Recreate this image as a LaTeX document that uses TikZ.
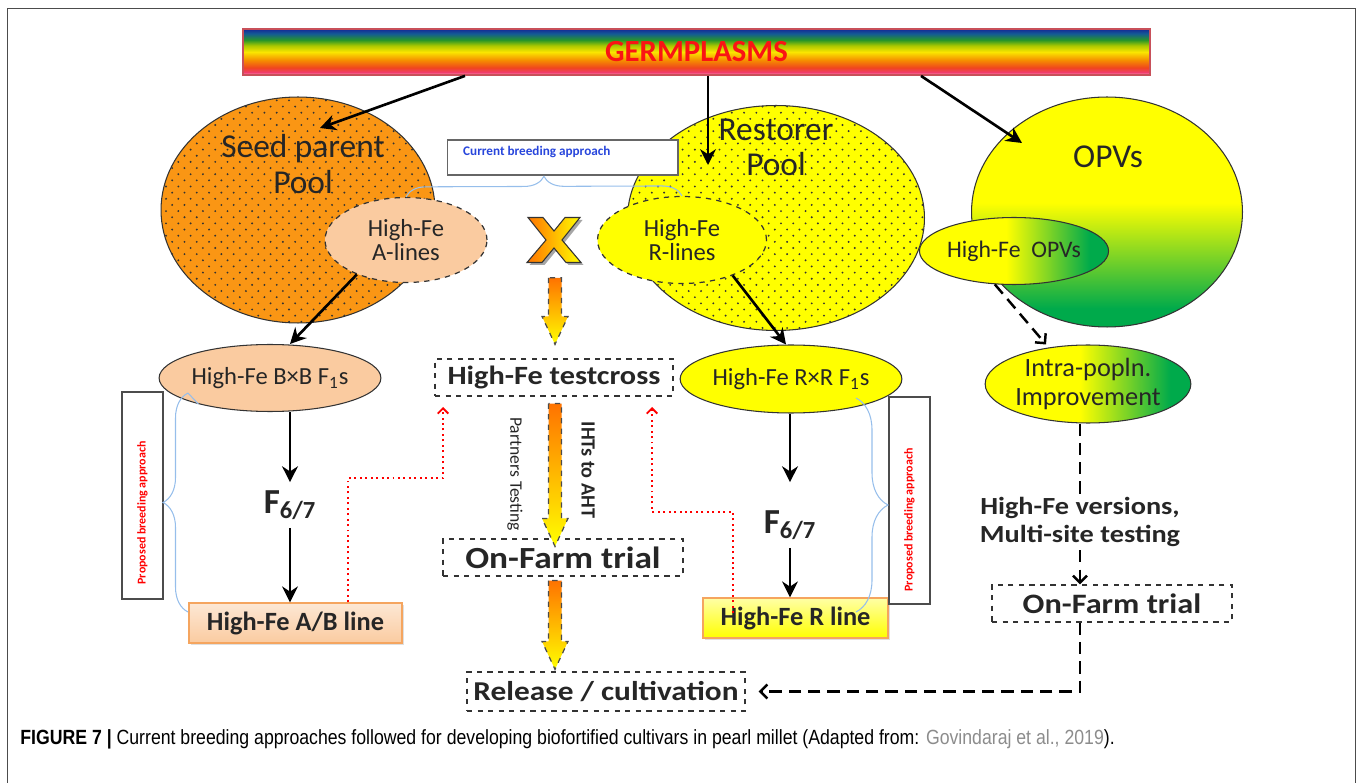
\documentclass[tikz,border=0pt]{standalone}
\usepackage{fontspec}
\setmainfont{Carlito}
\newfontfamily\widefont[FakeStretch=1.15]{Carlito}
\newfontfamily\capfont[FakeStretch=0.86]{Liberation Sans}
\usepackage{tikz}
\usetikzlibrary{
	arrows.meta,
	calc,
	patterns,
	decorations.pathreplacing,
	shapes.geometric,
	shadows,
	positioning
}
\definecolor{SeedOrange}{RGB}{250,150,20}
\definecolor{PoolYellow}{RGB}{255,255,0}
\definecolor{Peach}{RGB}{250,203,160}
\definecolor{LeafGreen}{RGB}{0,170,75}
\definecolor{BraceBlue}{RGB}{150,190,235}
\definecolor{TitleRed}{RGB}{250,20,20}
\definecolor{LinkBlue}{RGB}{40,70,220}
\definecolor{BoxOrange}{RGB}{245,165,95}
\definecolor{BarEdge}{RGB}{200,80,90}
\definecolor{BarPink}{RGB}{255,160,190}
\definecolor{BarRose}{RGB}{240,60,110}
\definecolor{BarRed}{RGB}{240,70,30}
\definecolor{BarOrange}{RGB}{245,140,0}
\definecolor{BarYellow}{RGB}{250,230,0}
\definecolor{BarLime}{RGB}{170,200,0}
\definecolor{BarGreen}{RGB}{40,150,40}
\definecolor{BarBlue}{RGB}{20,90,150}
\definecolor{BarNavy}{RGB}{20,40,150}

\newcommand\fsz[2]{\fontsize{#1}{#2}\selectfont}

\pgfdeclarepatternformonly{sparsedots}{\pgfqpoint{-1pt}{-1pt}}{\pgfqpoint{5pt}{5pt}}{\pgfqpoint{7pt}{7pt}}{%
	\pgfpathcircle{\pgfqpoint{0pt}{0pt}}{0.6pt}%
	\pgfpathcircle{\pgfqpoint{3.5pt}{3.5pt}}{0.6pt}%
	\pgfusepath{fill}}

\pgfdeclareverticalshading{rainbowbar}{100bp}{color(0bp)=(BarPink); color(25bp)=(BarPink);
	color(28bp)=(BarRose); color(33bp)=(BarRed); color(41bp)=(BarOrange); color(50bp)=(BarYellow);
	color(57bp)=(BarLime); color(63bp)=(BarGreen); color(70bp)=(BarBlue); color(75bp)=(BarNavy);
	color(100bp)=(BarNavy)}
\pgfdeclareverticalshading{opvfade}{100bp}{color(0bp)=(LeafGreen); color(29bp)=(LeafGreen);
	color(52bp)=(PoolYellow); color(100bp)=(PoolYellow)}
\pgfdeclarehorizontalshading{opvside}{100bp}{color(0bp)=(PoolYellow); color(48bp)=(PoolYellow);
	color(70bp)=(LeafGreen); color(100bp)=(LeafGreen)}

% big dashed gradient arrow between two coordinates
\newcommand\fatdown[2]{%
	\draw[bigarrow] ($(#1)+(-6.5,0)$) -- ($(#2)+(-6.5,-28)$) -- ($(#2)+(-13,-28)$) -- (#2)
		-- ($(#2)+(13,-28)$) -- ($(#2)+(6.5,-28)$) -- ($(#1)+(6.5,0)$) -- cycle;}

\begin{document}
\begin{tikzpicture}[x=0.02cm,y=-0.02cm,
	every node/.style={font=\fsz{14}{15}, text=black!85},
	pool/.style={ellipse, draw=black!80, line width=0.6pt, inner sep=0pt},
	lineell/.style={ellipse, draw=black!80, dashed, line width=0.7pt, inner sep=0pt, align=center},
	solidell/.style={ellipse, draw=black!80, line width=0.6pt, inner sep=0pt, align=center},
	dashbox/.style={draw=black!80, dashed, line width=0.7pt, inner sep=0pt, font=\widefont\bfseries\fsz{16}{17}},
	linebox/.style={draw=BoxOrange, line width=0.8pt, inner sep=0pt, font=\bfseries\fsz{15}{16},
		drop shadow={opacity=0.25, shadow xshift=1pt, shadow yshift=-1pt}},
	propbox/.style={draw=black!70, line width=0.6pt, minimum width=0.82cm, minimum height=4.14cm,
		inner sep=0pt, font=\bfseries\fsz{6.8}{7}, text=red},
	arr/.style={-{Stealth[length=9pt,width=9pt]}, line width=1.5pt},
	darr/.style={-{Straight Barb[length=4pt,width=8pt]}, dash pattern=on 7pt off 4pt, line width=1.4pt},
	redarr/.style={-{Straight Barb[length=3pt,width=6pt]}, red, dotted, line width=1.1pt},
	bracelink/.style={BraceBlue, line width=0.6pt, decorate},
	bigarrow/.style={top color=orange!90!red, bottom color=yellow, draw=black!70, dashed, line width=0.7pt},
	xmark/.style={left color=orange!90!red, right color=yellow, draw=black!80, line width=0.6pt}
	]
	\useasboundingbox (0,0) rectangle (1358,783);
	\draw[black!70, line width=0.8pt] (7.5,783) -- (7.5,8.5) -- (1355.5,8.5) -- (1355.5,783);

	% germplasm bar
	\node[shade, shading=rainbowbar, draw=BarEdge, line width=1pt, minimum width=18.14cm,
		minimum height=0.92cm, inner sep=0pt, font=\bfseries\fsz{17.5}{17.5}, text=TitleRed]
		(germ) at (696.5,52) {GERMPLASMS};

	% three pools
	\node[pool, minimum width=5.48cm, minimum height=4.52cm, preaction={fill=SeedOrange},
		pattern=sparsedots, pattern color=black!80] (seed) at (298,210) {};
	\node[font=\fsz{19}{20}, align=center] (seedtxt) at (303,164) {Seed parent\\Pool};
	\node[pool, minimum width=5.94cm, minimum height=4.50cm, preaction={fill=PoolYellow},
		pattern=sparsedots, pattern color=black!80] (rest) at (776,218) {};
	\node[font=\fsz{19}{20}, align=center] (resttxt) at (776,147) {Restorer\\Pool};
	\node[pool, minimum width=5.42cm, minimum height=4.60cm, shade, shading=opvfade] (opv) at (1107,212) {};
	\node[font=\fsz{19}{20}] (opvtxt) at (1108,157) {OPVs};

	\draw[arr] (germ.south -| 465,0) -- ($(seed.center)+(22,-82)$);
	\draw[arr] (germ.south -| 708,0) -- ($(rest.center)+(-68,-53)$);
	\draw[arr] (germ.south -| 921,0) -- ($(opv.center)+(-85,-69)$);

	% current approach
	\node[draw=black!60, fill=white, line width=0.6pt, minimum width=4.62cm, minimum height=0.7cm,
		inner sep=0pt] (current) at (562.5,157.5) {};
	\node[font=\bfseries\fsz{7.5}{8}, text=LinkBlue, anchor=west] (currtxt) at (457,152) {Current breeding approach};

	\node[lineell, fill=Peach, minimum width=3.24cm, minimum height=1.70cm, font=\fsz{14}{14}]
		(alines) at (406,240) {High-Fe\\A-lines};
	\node[lineell, fill=PoolYellow, minimum width=3.38cm, minimum height=1.74cm, font=\fsz{14}{14}]
		(rlines) at (682,240) {High-Fe\\R-lines};
	\draw[bracelink, decoration={brace, amplitude=0.4cm, aspect=0.5}] (alines.north) -- (rlines.north);

	% the cross
	\node[minimum width=1.04cm, minimum height=0.9cm, inner sep=0pt] (cross) at (554,240) {};
	\fill[black!35, shift={($(cross.center)+(2.5,2.5)$)}] (-26,-22.5) -- (-11,-22.5) -- (0,-9) -- (11,-22.5)
		-- (26,-22.5) -- (8,0) -- (27,22.5) -- (12,22.5) -- (0,8) -- (-12,22.5) -- (-27,22.5) -- (-8,0) -- cycle;
	\draw[xmark, shift={(cross.center)}] (-26,-22.5) -- (-11,-22.5) -- (0,-9) -- (11,-22.5)
		-- (26,-22.5) -- (8,0) -- (27,22.5) -- (12,22.5) -- (0,8) -- (-12,22.5) -- (-27,22.5) -- (-8,0) -- cycle;

	% middle column
	\node[dashbox, minimum width=4.76cm, minimum height=0.74cm, font=\widefont\bfseries\fsz{15}{16}] (testcross) at (554,377.5) {High-Fe testcross};
	\node[dashbox, minimum width=4.80cm, minimum height=0.74cm, font=\widefont\bfseries\fsz{17.5}{18}] (onfarm) at (563,557.5) {On-Farm trial};
	\node[dashbox, minimum width=5.56cm, minimum height=0.78cm, font=\widefont\bfseries\fsz{15.5}{16}] (release) at (606,691.5) {Release / cultivation};

	\coordinate (f1a) at ($(cross.south)+(1,15)$);
	\coordinate (f1b) at ($(testcross.north)+(1,-14)$);
	\coordinate (f2a) at ($(testcross.south)+(1,7)$);
	\coordinate (f2b) at ($(onfarm.north -| f2a)+(0,8)$);
	\coordinate (f3a) at ($(onfarm.south -| f2a)+(0,4)$);
	\coordinate (f3b) at ($(release.north -| f2a)+(0,-2)$);
	\fatdown{f1a}{f1b}
	\fatdown{f2a}{f2b}
	\fatdown{f3a}{f3b}

	\node[rotate=-90, font=\fsz{10}{10}] (partners) at (515,474) {Partners Testing};
	\node[rotate=-90, font=\bfseries\fsz{11.5}{12}] (ihts) at (588,470) {IHTs to AHT};

	% seed parent column
	\node[solidell, fill=Peach, minimum width=3.48cm, minimum height=1.34cm] (bbf1) at (270,378) {High-Fe B×B F\textsubscript{1}s};
	\node[font=\bfseries\fsz{20}{20}, minimum height=0.9cm, inner sep=0pt] (f67a) at (290,505) {F\textsubscript{6/7}};
	\node[linebox, top color=Peach!45!white, bottom color=Peach, minimum width=4.26cm, minimum height=0.8cm]
		(abline) at (295.5,623) {High-Fe A/B line};
	\draw[arr] (alines.215) -- ([xshift=0.4cm]bbf1.north);
	\draw[arr] (bbf1.south -| f67a.north) -- (f67a.north);
	\draw[arr] (f67a.south) -- (abline.north -| f67a.south);

	\node[propbox] (propA) at (142.5,495.5) {};
	\node[propbox, draw=none, rotate=90] (propAtxt) at (142.5,513) {Proposed breeding approach};
	\coordinate (lbrtop) at (188,393);
	\coordinate (lbrbot) at (188,612);
	\draw[bracelink, decoration={brace, amplitude=0.5cm}] (lbrbot) -- (lbrtop);
	\draw[BraceBlue, line width=0.6pt] (lbrtop) -- (bbf1.200);

	\draw[redarr] (abline.north -| 348,0) -- (348,478) -- (443,478) -- (443,407);

	% restorer column
	\node[solidell, fill=PoolYellow, minimum width=4.28cm, minimum height=1.36cm] (rrf1) at (791,379) {High-Fe R×R F\textsubscript{1}s};
	\node[font=\bfseries\fsz{20}{20}, minimum height=0.9cm, inner sep=0pt] (f67r) at (790,525) {F\textsubscript{6/7}};
	\node[linebox, top color=PoolYellow!35!white, bottom color=PoolYellow, minimum width=3.70cm, minimum height=0.8cm]
		(rline) at (795.5,618) {High-Fe R line};
	\draw[arr] (rlines.-35) -- ([xshift=-0.1cm]rrf1.north);
	\draw[arr] (rrf1.south -| f67r.north) -- ([yshift=0.4cm]f67r.north);
	\draw[arr] (f67r.south) -- (rline.north -| f67r.south);

	\node[propbox] (propR) at (909.5,500.5) {};
	\node[propbox, draw=none, rotate=90] (propRtxt) at (909.5,520) {Proposed breeding approach};
	\coordinate (rbrtop) at (856,398);
	\coordinate (rbrbot) at (856,612);
	\draw[bracelink, decoration={brace, amplitude=0.64cm}] (rbrtop) -- (rbrbot);

	\draw[redarr] (733,613) -- (733,512) -- (652,512) -- (652,407);

	% OPV column
	\node[solidell, shade, shading=opvside, minimum width=2.96cm, minimum height=1.34cm, font=\fsz{13.5}{14}]
		(hopv) at (1014,251) {High-Fe\ \ OPVs};
	\node[solidell, shade, shading=opvside, minimum width=4.06cm, minimum height=1.56cm, font=\fsz{15}{16}]
		(intra) at (1088,384) {Intra-popln.\\Improvement};
	\node[font=\widefont\bfseries\fsz{14}{15.5}, align=center, inner sep=2pt] (versions) at (1080,522) {High-Fe versions,\\Multi-site testing};
	\node[dashbox, minimum width=4.80cm, minimum height=0.74cm] (onfarm2) at (1112,603.5) {On-Farm trial};

	\draw[darr] (hopv.240) -- ([xshift=-0.84cm]intra.north);
	\draw[darr, -] (versions.north |- intra.south) -- (versions.north);
	\draw[darr] (versions.south) -- (versions.south |- onfarm2.north);
	\draw[darr] (onfarm2.south -| versions.south) |- ([xshift=0.26cm]release.east);

	% caption
	\node[anchor=base west, font=\capfont\fsz{11.7}{13}, text=black, inner sep=0pt] (caption) at (20,744)
		{\textbf{FIGURE 7 |} Current breeding approaches followed for developing biofortified cultivars in pearl millet (Adapted from: \textcolor{black!45}{Govindaraj et al., 2019}).};
\end{tikzpicture}
\end{document}
